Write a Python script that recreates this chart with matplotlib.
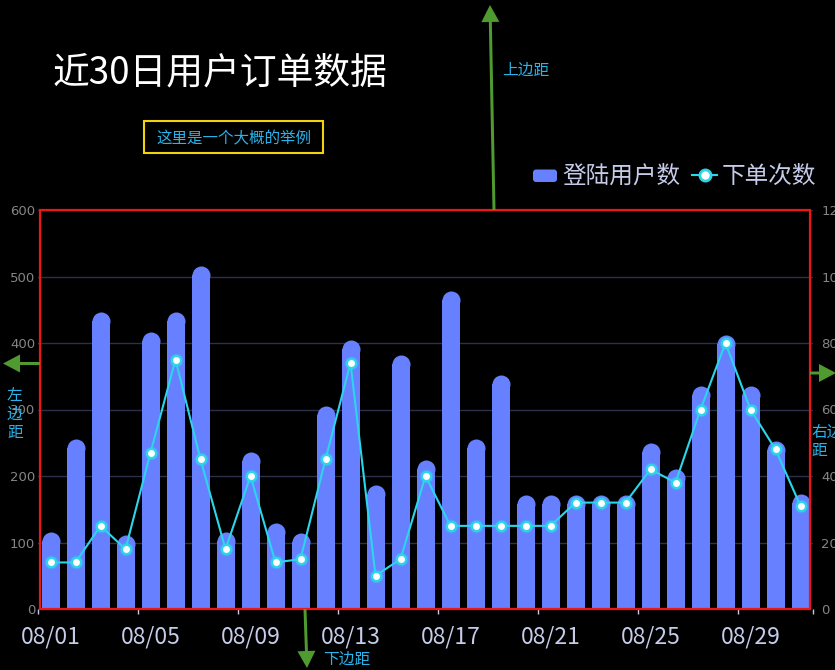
import matplotlib
matplotlib.use("Agg")
import matplotlib.pyplot as plt
import numpy as np
from matplotlib.patches import Rectangle, FancyArrow, FancyBboxPatch
from matplotlib.lines import Line2D
from matplotlib.transforms import Affine2D

plt.rcParams['font.family'] = ['Noto Sans CJK SC', 'DejaVu Sans']

# ---------------- data ----------------
dates = [f"08/{d:02d}" for d in range(1, 32)]
login_users = [116, 256, 447, 111, 416, 446, 516, 116, 236, 129, 115, 306, 405,
               187, 382, 224, 478, 256, 352, 172, 172, 172, 172, 172, 250, 210,
               335, 412, 335, 252, 173]
orders = [14, 14, 25, 18, 47, 75, 45, 18, 40, 14, 15, 45, 74, 10, 15, 40, 25,
          25, 25, 25, 25, 32, 32, 32, 42, 38, 60, 80, 60, 48, 31]
left_ticks = [0, 100, 200, 300, 400, 500, 600]
right_ticks = [0, 20, 40, 60, 80, 100, 120]
title = "近30日用户订单数据"
subtitle = "这里是一个大概的举例"
legend_labels = ["登陆用户数", "下单次数"]

W, H, DPI = 835, 670, 100
BG = "#000000"
BAR_C = "#6680ff"
LINE_C = "#2bd6ea"
LAV = "#c6cbe8"
GRAY = "#858585"
GREEN = "#4f9b2f"
CYAN_TXT = "#2ab3ea"

fig = plt.figure(figsize=(W / DPI, H / DPI), dpi=DPI, facecolor=BG)
# pixel transform (origin top-left)
px = Affine2D().scale(1 / DPI, -1 / DPI).translate(0, H / DPI) + fig.dpi_scale_trans

ax_l, ax_r, ax_t, ax_b = 38, 813, 210, 609
ax = fig.add_axes([ax_l / W, 1 - ax_b / H, (ax_r - ax_l) / W, (ax_b - ax_t) / H])
ax.set_facecolor(BG)
ax.set_xlim(-0.5, len(dates) - 0.5)
ax.set_ylim(0, 600)

x = np.arange(len(dates))
vals = np.array(login_users, dtype=float)
bar_w = 0.72
# radius of rounded cap in data units
ax_h_px = ax_b - ax_t
ax_w_px = ax_r - ax_l
bar_px = bar_w * ax_w_px / len(dates)
r_data = (bar_px / 2) * 600 / ax_h_px
ax.bar(x, vals - r_data, width=bar_w, color=BAR_C, zorder=2, linewidth=0)
ax.scatter(x, vals - r_data, s=(bar_px * 72 / DPI) ** 2, color=BAR_C,
           marker='o', linewidths=0, zorder=2)

ax.set_yticks(left_ticks)
ax.yaxis.grid(True, color="#2c3048", linewidth=1)
ax.set_axisbelow(True)
ax.tick_params(axis='y', length=0, pad=2, labelsize=9.5, labelcolor=GRAY)
for lab in ax.get_yticklabels():
    lab.set_fontfamily('DejaVu Sans')

ax.set_xticks(x[::4])
ax.set_xticklabels(dates[::4])
ax.set_xticks(list(np.arange(-0.5, len(dates), 4)) + [len(dates) - 0.5], minor=True)
ax.tick_params(axis='x', which='major', length=0, pad=12, labelsize=16.5, labelcolor=LAV)
ax.tick_params(axis='x', which='minor', length=3.5, width=1, color=LAV)
for s in ax.spines.values():
    s.set_visible(False)

ax2 = ax.twinx()
ax2.set_ylim(0, 120)
ax2.set_yticks(right_ticks)
ax2.tick_params(axis='y', length=0, pad=6, labelsize=9.5, labelcolor=GRAY)
for lab in ax2.get_yticklabels():
    lab.set_fontfamily('DejaVu Sans')
for s in ax2.spines.values():
    s.set_visible(False)
ax2.plot(x, orders, color=LINE_C, linewidth=1.5, zorder=3)
ax2.plot(x, orders, linestyle='none', marker='o', markersize=10, color=LINE_C,
         alpha=0.35, markeredgewidth=0, zorder=4)
ax2.plot(x, orders, linestyle='none', marker='o', markersize=6.6,
         markerfacecolor='white', markeredgecolor=LINE_C, markeredgewidth=1.6, zorder=5)

# red border
fig.add_artist(Rectangle((40, 210), 770, 399, transform=px, fill=False,
                         edgecolor="#ee1515", linewidth=1.6, zorder=10))

# title & subtitle
fig.text(53 / W, 1 - 73 / H, title, color="white", fontsize=26.5, va='center', ha='left')
fig.add_artist(Rectangle((144, 121), 179, 32, transform=px, fill=False,
                         edgecolor="#f2d20c", linewidth=1.5))
fig.text(234 / W, 1 - 138.5 / H, subtitle, color=CYAN_TXT, fontsize=11.2,
         va='center', ha='center')

# legend (manual)
fig.add_artist(FancyBboxPatch((533, 169.5), 24, 12.5, boxstyle="round,pad=0,rounding_size=3",
                              transform=px, facecolor=BAR_C, edgecolor='none'))
fig.text(562 / W, 1 - 176 / H, legend_labels[0], color=LAV, fontsize=17, va='center', ha='left')
fig.add_artist(Line2D([692, 717], [175, 175], transform=px, color=LINE_C, linewidth=1.5))
fig.add_artist(Line2D([704.5], [175], transform=px, marker='o', markersize=8,
                      markerfacecolor='white', markeredgecolor=LINE_C, markeredgewidth=2))
fig.text(722 / W, 1 - 176 / H, legend_labels[1], color=LAV, fontsize=17, va='center', ha='left')

# margin arrows
def arrow(x0, y0, x1, y1):
    fig.add_artist(FancyArrow(x0, y0, x1 - x0, y1 - y0, width=3, head_width=18,
                              head_length=17, length_includes_head=True,
                              transform=px, color=GREEN, linewidth=0, zorder=11))

arrow(494, 210, 490, 5)
arrow(40, 363.5, 3, 363.5)
arrow(810, 373, 836, 373)
arrow(305, 609, 307, 668)

fig.text(502 / W, 1 - 70 / H, "上边距", color=CYAN_TXT, fontsize=11.3, va='center', ha='left')
fig.text(323 / W, 1 - 659 / H, "下边距", color=CYAN_TXT, fontsize=11.3, va='center', ha='left')
fig.text(7 / W, 1 - 414 / H, "左\n边\n距", color=CYAN_TXT, fontsize=11.3, va='center',
         ha='left', linespacing=1.15)
fig.text(811 / W, 1 - 441 / H, "右边\n距", color=CYAN_TXT, fontsize=11.3, va='center',
         ha='left', linespacing=1.1)

fig.savefig("out.png", dpi=DPI, facecolor=BG)
